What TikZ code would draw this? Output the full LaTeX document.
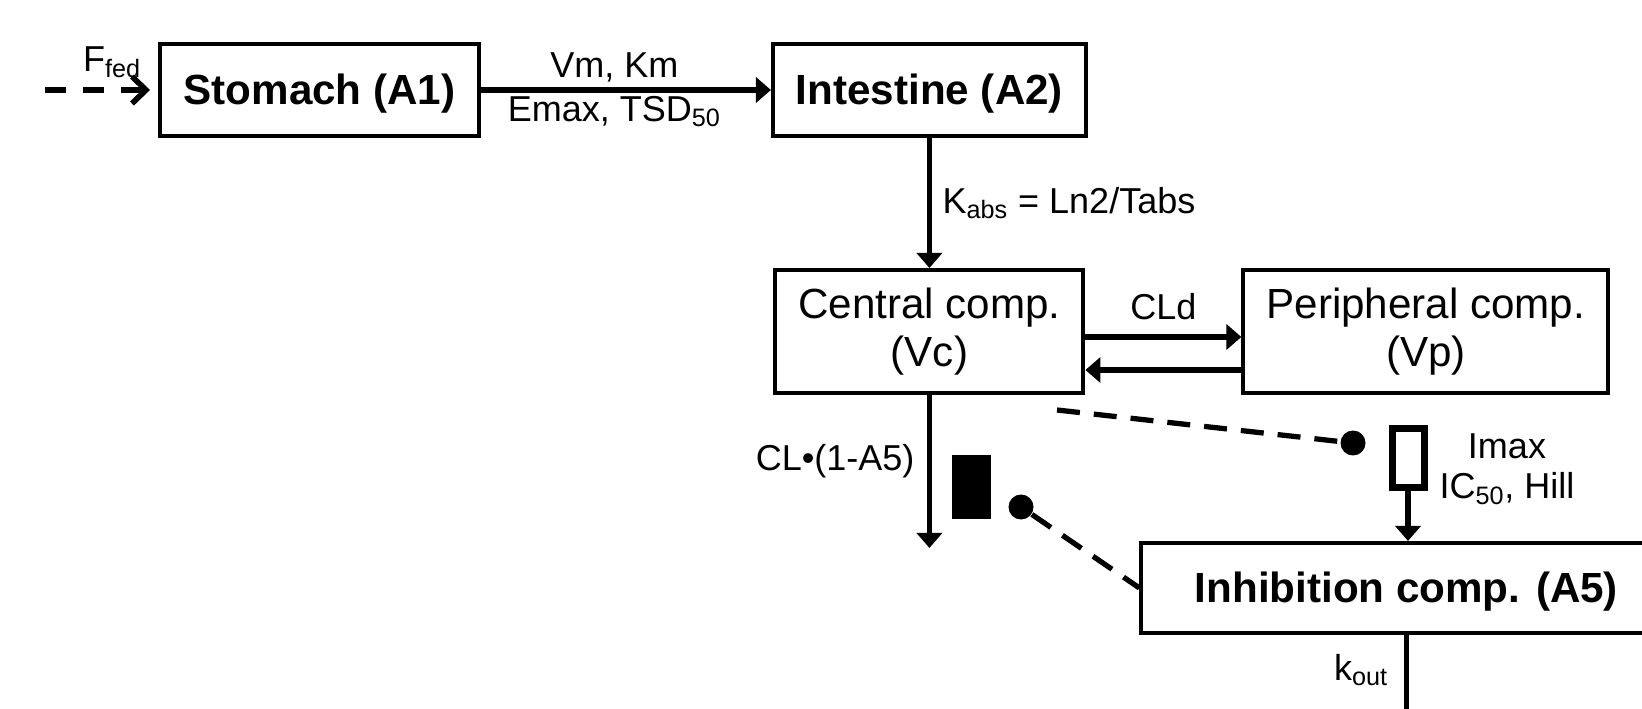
\documentclass[tikz,border=0pt]{standalone}
\usepackage{fontspec}
\setmainfont{Liberation Sans}
\usetikzlibrary{arrows.meta, positioning}

\begin{document}
\begin{tikzpicture}[x=0.02cm, y=-0.02cm, >={Triangle[length=0.3cm, width=0.5cm]}, thick]
    % Style definitions
    \tikzset{comp/.style={draw, line width=2.3pt, rectangle, inner sep=0pt, minimum height=1.84cm, align=center, font=\fontsize{24}{27}\selectfont}}
    \tikzset{bcomp/.style={comp, text height=16.5pt, text depth=0pt, font=\fontsize{24}{27}\selectfont\bfseries}}
    \tikzset{lbl/.style={inner sep=3pt, font=\fontsize{20.5}{25}\selectfont}}
    \tikzset{arrow/.style={line width=3pt, ->}}
    \tikzset{feed/.style={line width=3.2pt, dash pattern=on 0.42cm off 0.34cm, -{Straight Barb[length=0.28cm, width=0.54cm]}}}
    \tikzset{inhib/.style={line width=3pt, dash pattern=on 0.46cm off 0.28cm}}
    \tikzset{dot/.style={circle, fill, inner sep=0pt, minimum size=0.5cm}}

    \useasboundingbox (0,0) rectangle (1642,709);
    \clip (0,0) rectangle (1642,709);

    % Compartments
    \node[bcomp, minimum width=6.38cm] (stomach) at (319.5, 90) {Stomach (A1)};
    \node[bcomp, minimum width=6.26cm, right=5.8cm of stomach] (intestine) {Intestine (A2)};
    \node[comp, minimum width=6.16cm, minimum height=2.46cm, below=2.6cm of intestine] (central) {Central comp.\\(Vc)};
    \node[comp, minimum width=7.3cm, minimum height=2.46cm, right=3.12cm of central] (periph) {Peripheral comp.\\(Vp)};
    \node[bcomp, minimum width=10.6cm, minimum height=1.8cm, below right=2.92cm and 1.08cm of central] (inhibcomp) {Inhibition comp. (A5)};

    % Switches and effect dots
    \node[rectangle, fill, inner sep=0pt, minimum width=0.78cm, minimum height=1.3cm] (onswitch) at (971, 487) {};
    \node[dot] (ondot) at (1021, 507) {};
    \node[rectangle, draw, line width=4pt, inner sep=0pt, minimum width=0.64cm, minimum height=1.18cm] (offswitch) at (1408, 458) {};
    \node[dot] (offdot) at (1353, 443) {};
    \node[lbl, align=center, font=\fontsize{20.5}{23}\selectfont, right=0.12cm of offswitch, yshift=-0.22cm] (satlbl) {Imax\\IC\textsubscript{50}, Hill};

    % Free ends
    \coordinate (feedin) at (45, 90);
    \coordinate (cpeffect) at (1057, 410);
    \coordinate (clout) at ([yshift=-3.06cm]central.south);
    \coordinate (koutend) at ([yshift=-1.84cm]inhibcomp.south);

    % Arrows
    \draw[feed] (feedin) -- ([xshift=-0.16cm]stomach.west);
    \node[lbl, inner sep=0pt] (ffed) at (112, 62) {F\textsubscript{fed}};
    \draw[arrow] (stomach) -- (intestine)
        node[lbl, pos=0.46, above] {Vm, Km}
        node[lbl, pos=0.46, below=-1pt] {Emax, TSD\textsubscript{50}};
    \draw[arrow] (intestine) -- (central) node[lbl, midway, right=3pt] {K\textsubscript{abs} = Ln2/Tabs};
    \draw[arrow] ([yshift=-0.11cm]central.east) -- ([yshift=-0.11cm]periph.west) node[lbl, midway, above=5pt] {CLd};
    \draw[arrow] ([yshift=-0.77cm]periph.west) -- ([yshift=-0.77cm]central.east);
    \draw[arrow] (central) -- (clout) node[lbl, pos=0.43, left=4pt] {CL•(1-A5)};
    \draw[inhib] (cpeffect) -- (offdot);
    \draw[inhib] (ondot) -- (inhibcomp.west);
    \draw[arrow] (offswitch) -- (offswitch |- inhibcomp.north);
    \draw[arrow] (inhibcomp) -- (koutend) node[lbl, pos=0.38, left=6pt] {k\textsubscript{out}};
\end{tikzpicture}
\end{document}
